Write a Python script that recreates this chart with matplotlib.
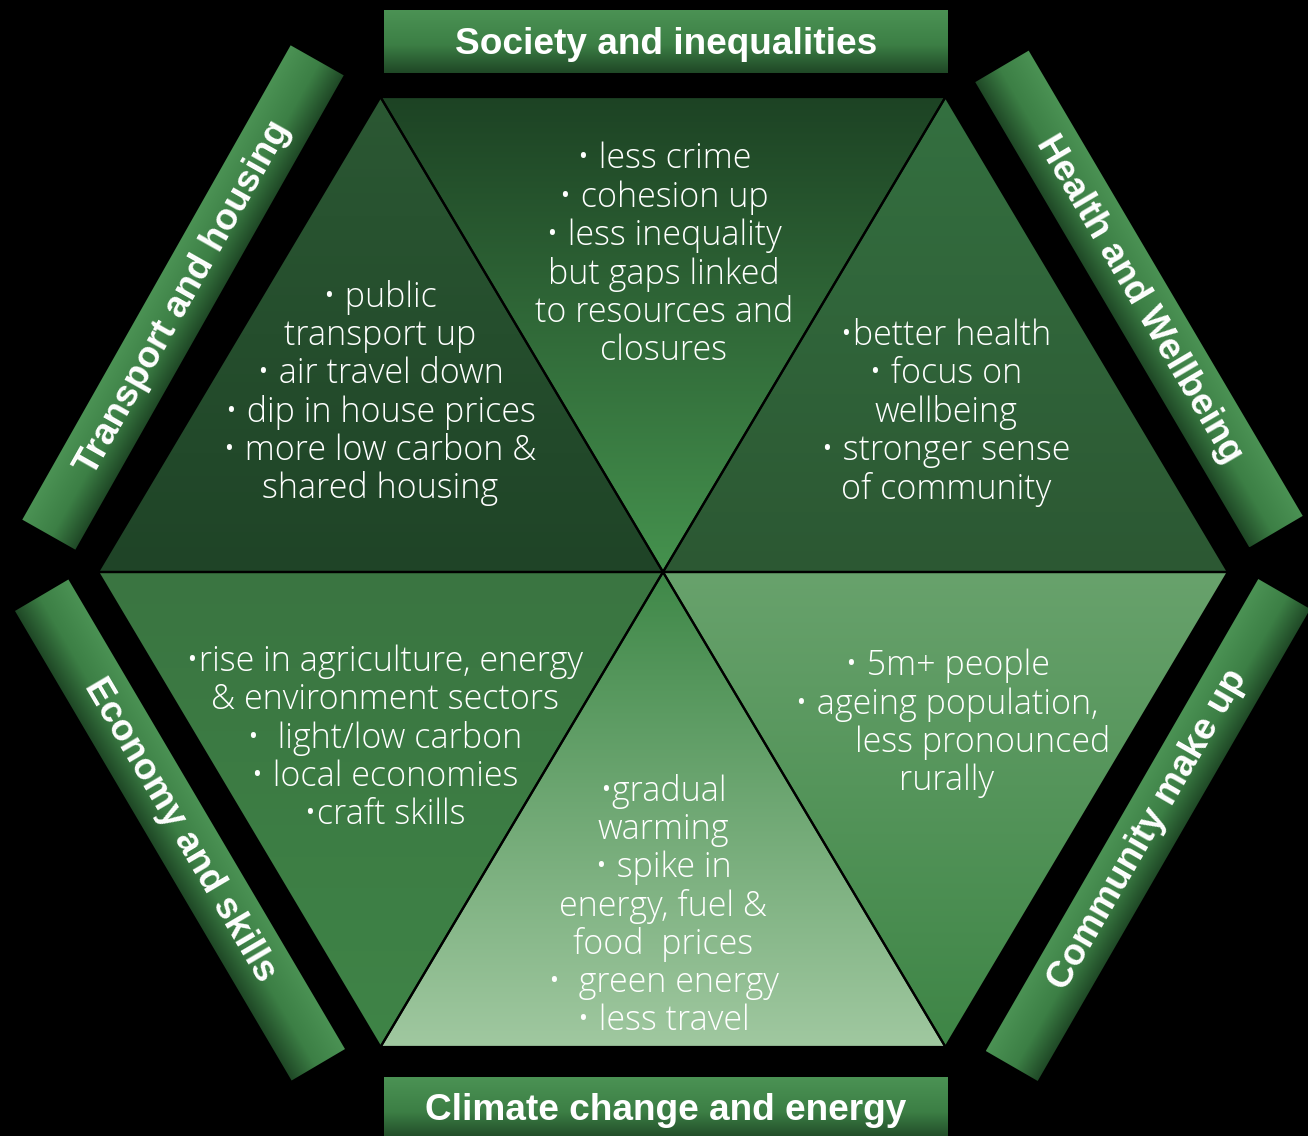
import numpy as np
import matplotlib
matplotlib.use("Agg")
import matplotlib.pyplot as plt
from matplotlib.patches import Polygon
from matplotlib.colors import LinearSegmentedColormap, to_rgb

W, H, DPI = 1308, 1136, 100

# ---------------- data (texts) ----------------
banner_titles = {
    "top": "Society and inequalities",
    "bottom": "Climate change and energy",
    "upper_left": "Transport and housing",
    "upper_right": "Health and Wellbeing",
    "lower_left": "Economy and skills",
    "lower_right": "Community make up",
}
top_lines = ["• less crime", "• cohesion up", "• less inequality",
             "but gaps linked", "to resources and", "closures"]
upper_left_lines = ["• public", "transport up", "• air travel down",
                    "• dip in house prices", "• more low carbon &", "shared housing"]
upper_right_lines = ["•better health", "• focus on", "wellbeing",
                     "• stronger sense", "of community"]
lower_left_lines = ["•rise in agriculture, energy", "& environment sectors",
                    "•  light/low carbon", "• local economies", "•craft skills"]
bottom_lines = ["•gradual", "warming", "• spike in", "energy, fuel &",
                "food  prices", "•  green energy", "• less travel"]
lower_right_lines = ["• 5m+ people", "• ageing population,",
                     "        less pronounced", "rurally"]

# ---------------- layout ----------------
CX, CY = 663, 572
RX, RY = 565, 475
V = {
    "R": (CX + RX, CY), "TR": (CX + RX / 2, CY - RY), "TL": (CX - RX / 2, CY - RY),
    "L": (CX - RX, CY), "BL": (CX - RX / 2, CY + RY), "BR": (CX + RX / 2, CY + RY),
}
C = (CX, CY)
triangles = {
    "top": ([V["TL"], V["TR"], C], "#1d4324", "#45924e"),
    "upper_right": ([V["TR"], V["R"], C], "#347040", "#2c5833"),
    "lower_right": ([V["R"], V["BR"], C], "#68a26c", "#3e8546"),
    "bottom": ([V["BR"], V["BL"], C], "#3f8848", "#a0c8a0"),
    "lower_left": ([V["BL"], V["L"], C], "#3a7541", "#3f8447"),
    "upper_left": ([V["L"], V["TL"], C], "#2b5833", "#1f4427"),
}
# center x, center y, angle (deg, screen CCW), length, width
banners = {
    "top": (666, 41.5, 0, 564, 63),
    "bottom": (666, 1108.5, 0, 564, 63),
    "upper_left": (183, 297.5, 60.5, 545, 61),
    "upper_right": (1139, 299, -59.5, 540, 62),
    "lower_left": (180, 830, -59.5, 545, 62),
    "lower_right": (1148, 830, 60, 545, 60),
}
text_blocks = [
    (top_lines, 664, 255),
    (upper_left_lines, 380, 393),
    (upper_right_lines, 946, 412.5),
    (lower_left_lines, 385, 738.5),
    (bottom_lines, 663, 906),
    (lower_right_lines, 947, 723.5),
]
LINE_STEP = 38.3

fig = plt.figure(figsize=(W / DPI, H / DPI), dpi=DPI, facecolor="black")
ax = fig.add_axes([0, 0, 1, 1])
ax.set_facecolor("black")
ax.set_xlim(0, W)
ax.set_ylim(H, 0)
ax.axis("off")

# ---------------- triangles with vertical gradients ----------------
for key, (pts, ctop, cbot) in triangles.items():
    pts = np.array(pts, dtype=float)
    x0, x1 = pts[:, 0].min(), pts[:, 0].max()
    y0, y1 = pts[:, 1].min(), pts[:, 1].max()
    n = 256
    s = np.linspace(0, 1, n)[:, None]
    a, b = np.array(to_rgb(ctop)), np.array(to_rgb(cbot))
    col = a[None, :] * (1 - s) + b[None, :] * s
    arr = np.repeat(col[:, None, :], 2, axis=1)
    poly = Polygon(pts, closed=True, facecolor="none", edgecolor="none")
    ax.add_patch(poly)
    im = ax.imshow(arr, extent=(x0, x1, y1, y0), origin="upper",
                   interpolation="bilinear", aspect="auto", zorder=1)
    im.set_clip_path(poly)
    ax.add_patch(Polygon(pts, closed=True, fill=False, edgecolor="black",
                         linewidth=1.6, zorder=2, joinstyle="miter"))

# ---------------- banners with cross gradients ----------------
bcmap = LinearSegmentedColormap.from_list(
    "ban", [(0.0, "#1f4826"), (0.45, "#3c7f45"), (1.0, "#4b9254")])
for key, (bx, by, ang, L, Wd) in banners.items():
    th = np.deg2rad(ang)
    u = np.array([np.cos(th), -np.sin(th)])       # along length (data coords)
    v = np.array([-np.sin(th), -np.cos(th)])      # text-up direction
    c = np.array([bx, by])
    corners = np.array([c - u * L / 2 - v * Wd / 2, c + u * L / 2 - v * Wd / 2,
                        c + u * L / 2 + v * Wd / 2, c - u * L / 2 + v * Wd / 2])
    x0, x1 = corners[:, 0].min(), corners[:, 0].max()
    y0, y1 = corners[:, 1].min(), corners[:, 1].max()
    xs = np.linspace(x0, x1, int(x1 - x0) + 2)
    ys = np.linspace(y0, y1, int(y1 - y0) + 2)
    X, Y = np.meshgrid(xs, ys)
    t = ((X - bx) * v[0] + (Y - by) * v[1]) / (Wd / 2)
    sv = np.clip((t + 1) / 2, 0, 1)
    arr = bcmap(sv)[:, :, :3]
    poly = Polygon(corners, closed=True, facecolor="none", edgecolor="none")
    ax.add_patch(poly)
    im = ax.imshow(arr, extent=(x0, x1, y1, y0), origin="upper",
                   interpolation="bilinear", aspect="auto", zorder=3)
    im.set_clip_path(poly)

# ---------------- fonts sizing ----------------
renderer = fig.canvas.get_renderer()
BODY_KW = dict(family=["Open Sans", "Lato", "DejaVu Sans"], fontweight="light")
TITLE_KW = dict(family=["Liberation Sans", "DejaVu Sans"], fontweight="bold")


def text_width(s, size, kw):
    t = ax.text(0, 0, s, fontsize=size, **kw)
    w = t.get_window_extent(renderer).width
    t.remove()
    return w


body_size = 20 * 310 / text_width("• dip in house prices", 20, BODY_KW)
title_size = 20 * 421 / text_width(banner_titles["top"], 20, TITLE_KW)

# ---------------- titles ----------------
for key, (bx, by, ang, L, Wd) in banners.items():
    ty = by + (2.5 if ang == 0 else 0)
    ax.text(bx, ty, banner_titles[key], color="white", fontsize=title_size,
            rotation=ang, rotation_mode="anchor", ha="center", va="center",
            zorder=5, **TITLE_KW)

# ---------------- body texts ----------------
for lines, bx, by in text_blocks:
    n = len(lines)
    for i, line in enumerate(lines):
        y = by + (i - (n - 1) / 2) * LINE_STEP
        ax.text(bx, y, line, color="white", fontsize=body_size, ha="center",
                va="center", zorder=5, **BODY_KW)

fig.savefig("out.png", dpi=DPI, facecolor="black")
